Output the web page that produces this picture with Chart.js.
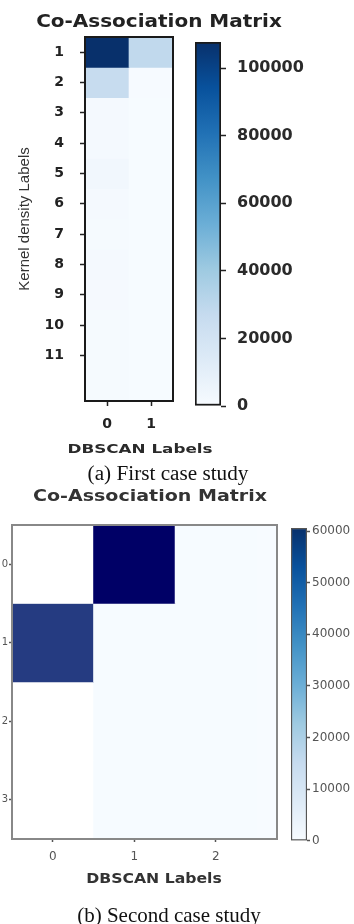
<!DOCTYPE html>
<html>
<head>
<meta charset="utf-8">
<script src="https://cdn.jsdelivr.net/npm/chart.js@4.4.1/dist/chart.umd.min.js"></script>
<style>
  html, body { margin: 0; padding: 0; background: #fff; width: 354px; height: 924px; overflow: hidden; position: relative; }
  canvas { position: absolute; }
  .txt { position: absolute; white-space: nowrap; text-align: center; transform-origin: center center; }
</style>
</head>
<body>
<canvas id="matrixA" width="185" height="470" style="left:0;top:0"></canvas>
<canvas id="barA" width="169" height="470" style="left:185px;top:0"></canvas>
<canvas id="matrixB" width="285" height="380" style="left:0;top:510px"></canvas>
<canvas id="barB" width="69" height="340" style="left:285px;top:510px"></canvas>

<div class="txt" style="left:-41px;width:400px;top:10px;line-height:24px;font:bold 18px 'DejaVu Sans';color:#222;transform:scaleX(1.11)">Co-Association Matrix</div>
<div class="txt" style="left:-60px;width:400px;top:441px;line-height:18px;font:bold 13px 'DejaVu Sans';color:#2a2a2a;transform:scaleX(1.29)">DBSCAN Labels</div>
<div class="txt" style="left:-32px;width:400px;top:462px;line-height:26px;font:20px 'Liberation Serif';color:#111;transform:scaleX(1.06)">(a) First case study</div>
<div class="txt" style="left:-50px;width:400px;top:486px;line-height:22px;font:bold 16px 'DejaVu Sans';color:#333;transform:scaleX(1.19)">Co-Association Matrix</div>
<div class="txt" style="left:-46px;width:400px;top:870px;line-height:20px;font:bold 14px 'DejaVu Sans';color:#333;transform:scaleX(1.12)">DBSCAN Labels</div>
<div class="txt" style="left:-31px;width:400px;top:903px;line-height:28px;font:21px 'Liberation Serif';color:#111">(b) Second case study</div>

<script>
// ---- (a) First case study: Kernel density labels (rows) x DBSCAN labels (columns)
const caseACols = [0, 1];
const caseARows = [1, 2, 3, 4, 5, 6, 7, 8, 9, 10, 11, 12];
const caseARowTicks = [1, 2, 3, 4, 5, 6, 7, 8, 9, 10, 11];
const caseAValues = [
  [107700, 28500],
  [26500, 600],
  [1800, 400],
  [1800, 400],
  [3200, 400],
  [1800, 300],
  [1200, 300],
  [1500, 300],
  [1300, 300],
  [1200, 300],
  [1100, 300],
  [1200, 300]
];
const caseABarTicks = [0, 20000, 40000, 60000, 80000, 100000];

// ---- (b) Second case study (empty cells are null)
const caseBCols = [0, 1, 2];
const caseBRows = [0, 1, 2, 3];
const caseBValues = [
  [null, 60600, 200],
  [52000, 200, 200],
  [null, 200, 200],
  [null, 200, 200]
];
const caseBBarTicks = [0, 10000, 20000, 30000, 40000, 50000, 60000];

// Colour maps
const BLUES = ['#f7fbff', '#deebf7', '#c6dbef', '#9ecae1', '#6baed6', '#4292c6', '#2171b5', '#08519c', '#08306b'];
const NAVY_STOPS = [[0, '#f7fbff'], [0.3, '#c6dbef'], [0.55, '#6baed6'], [0.86, '#253a80'], [1, '#000066']];

function hexRgb(h) { return [1, 3, 5].map(i => parseInt(h.slice(i, i + 2), 16)); }
function mix(a, b, t) {
  const A = hexRgb(a), B = hexRgb(b);
  return 'rgb(' + A.map((v, i) => Math.round(v + (B[i] - v) * t)).join(',') + ')';
}
function bluesAt(t) {
  t = Math.max(0, Math.min(1, t));
  const p = t * (BLUES.length - 1), i = Math.min(Math.floor(p), BLUES.length - 2);
  return mix(BLUES[i], BLUES[i + 1], p - i);
}
function navyAt(t) {
  t = Math.max(0, Math.min(1, t));
  for (let i = 0; i < NAVY_STOPS.length - 1; i++) {
    const [p0, c0] = NAVY_STOPS[i], [p1, c1] = NAVY_STOPS[i + 1];
    if (t <= p1) return mix(c0, c1, (t - p0) / (p1 - p0));
  }
  return NAVY_STOPS[NAVY_STOPS.length - 1][1];
}
function maxOf(m) { return Math.max(...m.flat().filter(v => v !== null)); }

// Outline (and optional fill) of the plotting area
const framePlugin = {
  id: 'frame',
  beforeDatasetsDraw(chart, args, o) {
    if (!o.fill) return;
    const a = chart.chartArea, ctx = chart.ctx;
    ctx.save(); ctx.fillStyle = o.fill; ctx.fillRect(a.left, a.top, a.width, a.height); ctx.restore();
  },
  afterDatasetsDraw(chart, args, o) {
    const a = chart.chartArea, ctx = chart.ctx;
    ctx.save(); ctx.strokeStyle = o.color; ctx.lineWidth = o.width;
    ctx.strokeRect(a.left, a.top, a.width, a.height); ctx.restore();
  }
};

function matrixChart(id, o) {
  const datasets = o.rows.map((r, i) => ({
    label: String(r),
    data: o.cols.map(c => ({ x: c, y: [r - 0.5, r + 0.5] })),
    backgroundColor: o.cols.map((c, j) => o.values[i][j] === null ? '#ffffff' : o.color(o.values[i][j] / o.max)),
    borderWidth: 0,
    barPercentage: 1,
    categoryPercentage: 1,
    grouped: false
  }));
  return new Chart(document.getElementById(id), {
    type: 'bar',
    data: { datasets },
    plugins: [framePlugin],
    options: {
      responsive: false, animation: false, devicePixelRatio: 1,
      layout: { padding: o.padding },
      plugins: { legend: { display: false }, tooltip: { enabled: false }, frame: o.frame },
      scales: {
        x: {
          type: 'linear', min: o.xMin, max: o.xMax, offset: false,
          afterBuildTicks: s => { s.ticks = o.cols.map(v => ({ value: v })); },
          afterFit: s => { s.height = o.xHeight; },
          grid: { offset: false, drawOnChartArea: false, tickLength: o.tickLen, color: o.tickColor, tickWidth: 1.5 },
          border: { display: false },
          ticks: { padding: o.xPad, font: o.tickFont, color: o.textColor, callback: v => String(v), maxRotation: 0 }
        },
        y: {
          type: 'linear', reverse: true, min: o.yMin, max: o.yMax,
          afterBuildTicks: s => { s.ticks = o.rowTicks.map(v => ({ value: v })); },
          afterFit: s => { s.width = o.yWidth; },
          grid: { drawOnChartArea: false, tickLength: o.tickLen, color: o.tickColor, tickWidth: 1.5 },
          border: { display: false },
          ticks: { padding: o.yPad, font: o.yTickFont || o.tickFont, color: o.textColor, callback: v => String(v) },
          title: o.yTitle || { display: false }
        }
      }
    }
  });
}

function colorbarChart(id, o) {
  return new Chart(document.getElementById(id), {
    type: 'bar',
    data: {
      labels: [''],
      datasets: [{
        data: [[0, o.max]],
        backgroundColor: c => {
          const a = c.chart.chartArea;
          if (!a) return BLUES[0];
          const g = c.chart.ctx.createLinearGradient(0, a.bottom, 0, a.top);
          BLUES.forEach((col, i) => g.addColorStop(i / (BLUES.length - 1), col));
          return g;
        },
        borderColor: o.edge, borderWidth: o.edgeWidth, borderSkipped: false,
        barPercentage: 1, categoryPercentage: 1
      }]
    },
    options: {
      responsive: false, animation: false, devicePixelRatio: 1,
      layout: { padding: o.padding },
      plugins: { legend: { display: false }, tooltip: { enabled: false } },
      scales: {
        x: { display: false },
        y: {
          position: 'right', min: 0, max: o.max,
          afterBuildTicks: s => { s.ticks = o.ticks.map(v => ({ value: v })); },
          afterFit: s => { s.width = o.axisWidth; },
          grid: { drawOnChartArea: false, tickLength: o.tickLen, color: o.tickColor, tickWidth: 1.5 },
          border: { display: false },
          ticks: { padding: o.pad, font: o.font, color: o.textColor, callback: v => String(v) }
        }
      }
    }
  });
}

const maxA = maxOf(caseAValues);
const maxB = maxOf(caseBValues);

matrixChart('matrixA', {
  rows: caseARows, cols: caseACols, values: caseAValues, rowTicks: caseARowTicks,
  max: maxA, color: bluesAt,
  xMin: -0.5, xMax: 1.5, yMin: 0.5, yMax: 12.5,
  padding: { top: 37, right: 12, left: 0, bottom: 0 },
  xHeight: 69, yWidth: 85, tickLen: 5, xPad: 10, yPad: 16,
  tickColor: '#222', textColor: '#222',
  tickFont: { family: 'DejaVu Sans', size: 14, weight: 'bold' },
  frame: { color: '#1a1a1a', width: 2 },
  yTitle: {
    display: true, text: 'Kernel density Labels', color: '#333',
    font: { family: 'Liberation Sans', size: 15 }, padding: { top: 16, bottom: 0 }
  }
});

colorbarChart('barA', {
  max: maxA, ticks: caseABarTicks,
  padding: { left: 10, top: 42, bottom: 64, right: 0 },
  axisWidth: 133, tickLen: 5, pad: 11,
  edge: '#1a1a1a', edgeWidth: 2, tickColor: '#222', textColor: '#2a2a2a',
  font: { family: 'DejaVu Sans', size: 16, weight: 'bold' }
});

matrixChart('matrixB', {
  rows: caseBRows, cols: caseBCols, values: caseBValues, rowTicks: caseBRows,
  max: maxB, color: navyAt,
  xMin: -0.5, xMax: 2.75, yMin: -0.5, yMax: 3.5,
  padding: { top: 15, right: 8, left: 0, bottom: 0 },
  xHeight: 51, yWidth: 12, tickLen: 3, xPad: 8, yPad: 1,
  tickColor: '#555', textColor: '#555',
  tickFont: { family: 'DejaVu Sans', size: 12 },
  yTickFont: { family: 'DejaVu Sans', size: 10 },
  frame: { color: '#888', width: 2, fill: BLUES[0] }
});

colorbarChart('barB', {
  max: maxB, ticks: caseBBarTicks,
  padding: { left: 6, top: 18, bottom: 7, right: 0 },
  axisWidth: 47, tickLen: 3, pad: 2,
  edge: '#555', edgeWidth: 1.5, tickColor: '#555', textColor: '#555',
  font: { family: 'DejaVu Sans', size: 12 }
});
</script>
</body>
</html>
